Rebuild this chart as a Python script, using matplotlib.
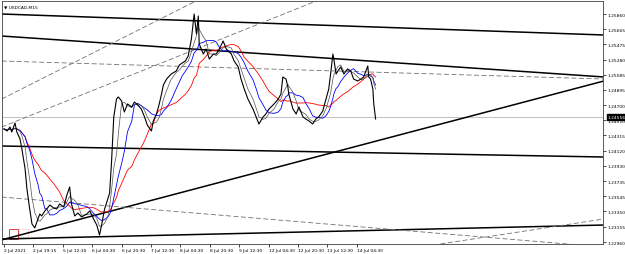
import matplotlib
matplotlib.use("Agg")
import matplotlib.pyplot as plt
import numpy as np
import pandas as pd
from matplotlib.patches import Rectangle

# ---------------- data ----------------
bars = [0, 7, 13, 17, 24, 28, 35, 39, 46, 50, 56, 61, 67, 74, 78, 82, 89, 93, 100, 108,
        115, 121, 130, 137, 143, 147, 154, 161, 169, 180, 187, 195, 202, 208, 213, 219, 226, 230, 234, 239,
        245, 249, 256, 262, 269, 278, 284, 291, 299, 306, 312, 321, 325, 332, 338, 343, 347, 354, 364, 375,
        382, 388, 395, 401, 408, 414, 419, 423, 425, 434, 440, 447, 456, 462, 469, 477, 484, 495, 501, 510,
        516, 523, 531, 542, 549, 555, 564, 570, 577, 588, 597, 603, 607, 614, 618, 620, 629, 636, 642, 651,
        657, 664, 672, 679, 685, 694, 701, 707, 711, 716, 718, 723, 727, 733, 740, 748, 755, 761, 770, 777,
        783, 792, 794, 798, 803, 805, 809]
close = [1.24398, 1.24372, 1.24423, 1.24359, 1.24474, 1.24359, 1.24270, 1.24143, 1.23889, 1.23634, 1.23380, 1.23189, 1.23139, 1.23253, 1.23316, 1.23291, 1.23355, 1.23380, 1.23431, 1.23393,
         1.23380, 1.23444, 1.23406, 1.23558, 1.23660, 1.23444, 1.23291, 1.23329, 1.23278, 1.23316, 1.23355, 1.23253, 1.23176, 1.23049, 1.23189, 1.23380, 1.23507, 1.23584, 1.23965, 1.24550,
         1.24779, 1.24805, 1.24754, 1.24614, 1.24716, 1.24677, 1.24741, 1.24703, 1.24652, 1.24550, 1.24448, 1.24372, 1.24499, 1.24588, 1.24716, 1.24843, 1.24957, 1.25033, 1.25097, 1.25135,
         1.25212, 1.25237, 1.25262, 1.25326, 1.25542, 1.25860, 1.25606, 1.25835, 1.25479, 1.25351, 1.25415, 1.25288, 1.25351, 1.25351, 1.25415, 1.25517, 1.25415, 1.25351, 1.25262, 1.25186,
         1.25033, 1.24906, 1.24779, 1.24652, 1.24550, 1.24461, 1.24550, 1.24588, 1.24652, 1.24716, 1.24779, 1.24843, 1.25059, 1.25033, 1.24932, 1.24843, 1.24652, 1.24588, 1.24677, 1.24550,
         1.24525, 1.24499, 1.24461, 1.24525, 1.24550, 1.24626, 1.24779, 1.24906, 1.25097, 1.25351, 1.25288, 1.25097, 1.25135, 1.25186, 1.25097, 1.25161, 1.25135, 1.25033, 1.25008, 1.25033,
         1.25059, 1.25199, 1.25059, 1.25033, 1.24906, 1.24716, 1.24525]

ma_red_window = "1500min"
ma_blue_window = "750min"
ma_gray_window = "300min"

# trend lines: (bar0, price0, bar1, price1)
solid_lines = [(-5, 1.25860, 1306, 1.25593),
               (-5, 1.25580, 1306, 1.25059),
               (-5, 1.24181, 1306, 1.24041),
               (-5, 1.22987, 1306, 1.25008),
               (-5, 1.22998, 1306, 1.23176)]
dashed_lines = [(-5, 1.25262, 1306, 1.25033),
                (-5, 1.23532, 1306, 1.22896),
                (950, 1.22935, 1306, 1.23253),
                (-5, 1.24779, 450, 1.26120),
                (-5, 1.24423, 720, 1.26120)]

bid = 1.24550
bid_label = "1.24556"

xtick_bars = [0, 64, 128, 192, 256, 320, 384, 448, 512, 576, 640, 704, 768]
xtick_labels = ["2 Jul 2021", "2 Jul 19:15", "5 Jul 12:30", "6 Jul 04:30", "6 Jul 20:30",
                "7 Jul 12:30", "8 Jul 04:30", "8 Jul 20:30", "9 Jul 12:30", "12 Jul 04:30",
                "12 Jul 20:30", "13 Jul 12:30", "14 Jul 04:30"]
ytick_vals = [1.25860, 1.25665, 1.25475, 1.25280, 1.25085, 1.24895, 1.24700, 1.24510,
              1.24315, 1.24120, 1.23930, 1.23735, 1.23545, 1.23350, 1.23155, 1.22960]

# ---------------- plot ----------------
fig = plt.figure(figsize=(6.25, 2.55), dpi=100)
ax = fig.add_axes([2/625, 10/255, 601/625, 243/255])

ts = pd.Series(close, index=pd.to_datetime(np.array(bars) * 15, unit="m"))
ma_red = ts.rolling(ma_red_window, min_periods=1).mean()
ma_blue = ts.rolling(ma_blue_window, min_periods=1).mean()
ma_gray = ts.rolling(ma_gray_window, min_periods=1).mean()

ax.axhline(bid, color="#c0c0c0", lw=0.7, zorder=1)

for (b0, p0, b1, p1) in solid_lines:
    ax.plot([b0, b1], [p0, p1], color="black", lw=1.1, zorder=2)
for (b0, p0, b1, p1) in dashed_lines:
    ax.plot([b0, b1], [p0, p1], color="#707070", lw=0.6, ls=(0, (6, 3)), zorder=2)

ax.plot(bars, ma_red.values, color="red", lw=0.6, zorder=3)
ax.plot(bars, ma_blue.values, color="blue", lw=0.6, zorder=3)
ax.plot(bars, ma_gray.values, color="#505050", lw=0.5, zorder=3)
ax.plot(bars, close, color="black", lw=0.8, zorder=4)

ax.set_xlim(-4.3, 1304)
ax.set_ylim(1.229346, 1.260254)

ax.yaxis.tick_right()
ax.set_yticks(ytick_vals)
ax.set_yticklabels([f"{v:.5f}" for v in ytick_vals], fontsize=3.2)
ax.set_xticks(xtick_bars)
ax.set_xticklabels(xtick_labels, fontsize=3.2, ha="left")
ax.tick_params(axis="both", length=2, width=0.5, pad=1, colors="black")
for s in ax.spines.values():
    s.set_linewidth(0.6)
    s.set_color("#404040")

ax.annotate(bid_label, xy=(1.0, bid), xycoords=("axes fraction", "data"),
            xytext=(3, 0), textcoords="offset points", fontsize=3.2, color="white",
            va="center", ha="left",
            bbox=dict(boxstyle="square,pad=0.15", fc="black", ec="black"))

ax.text(0.004, 0.985, "\u25BC USDCAD,M15", transform=ax.transAxes, fontsize=3.2,
        va="top", ha="left", color="black")

ax.add_patch(Rectangle((0.011, 0.02), 0.016, 0.04, transform=ax.transAxes,
                       fill=False, ec="#e04040", lw=0.7))
ax.add_patch(Rectangle((0.029, 0.03), 0.015, 0.03, transform=ax.transAxes,
                       fill=False, ec="#f08080", lw=0.5, ls=":"))

fig.savefig("out.png", dpi=100)
